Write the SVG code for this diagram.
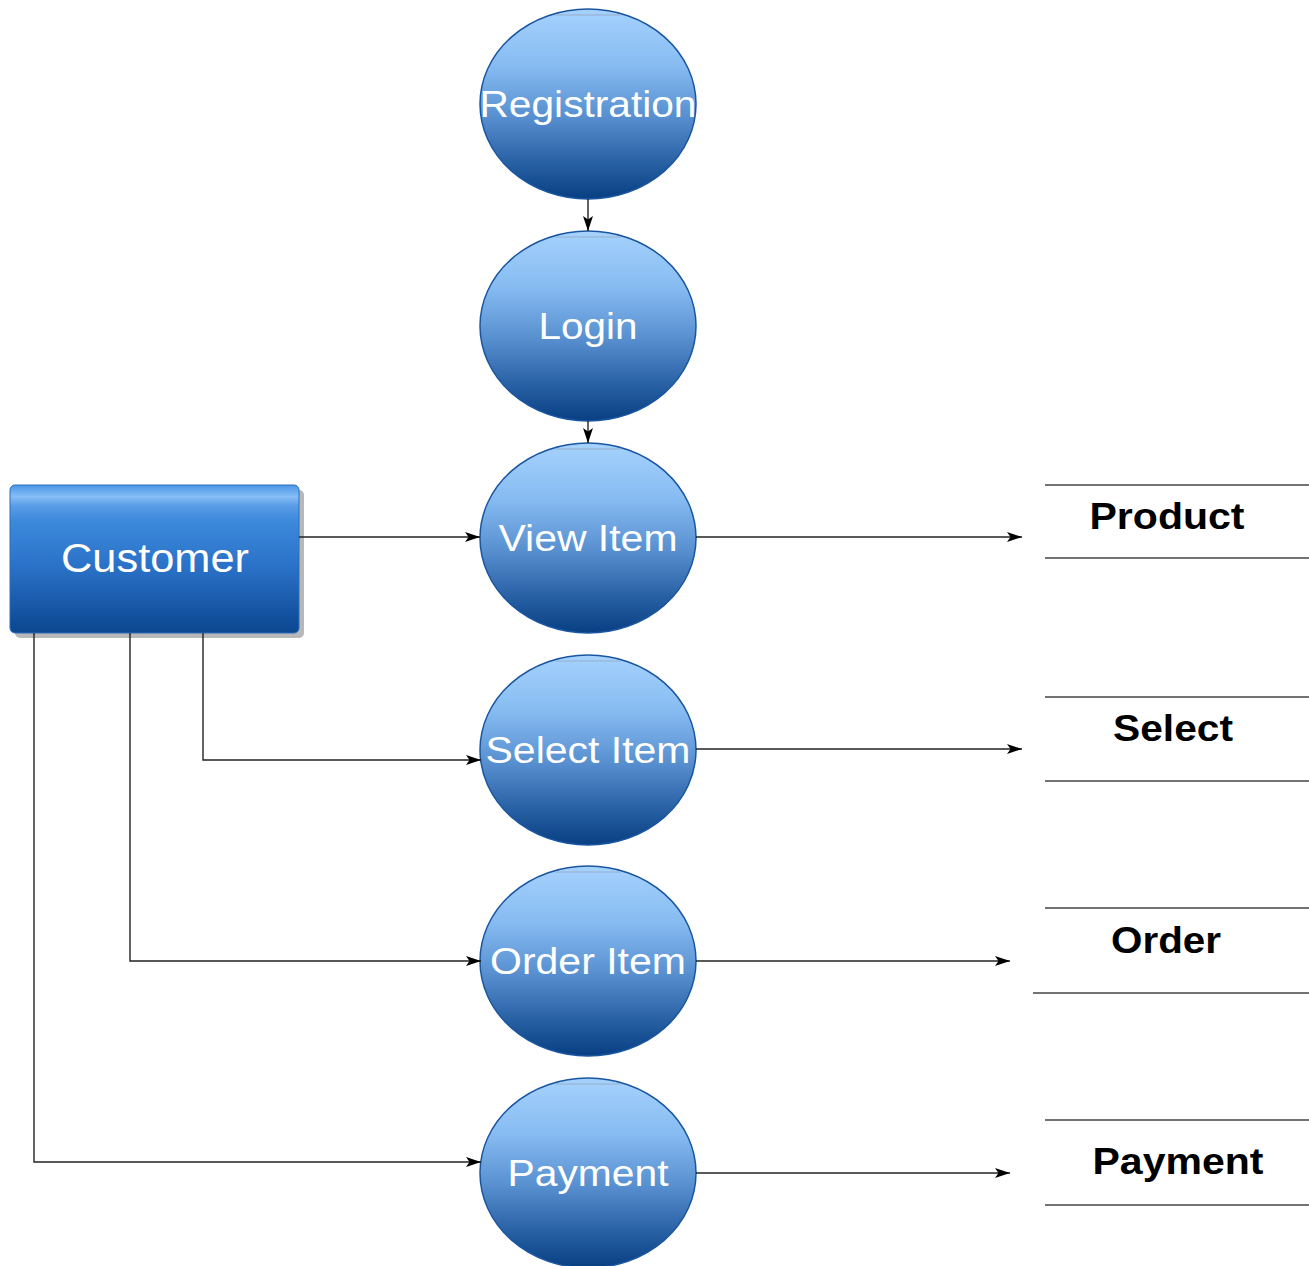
<svg xmlns="http://www.w3.org/2000/svg" width="1309" height="1266" viewBox="0 0 1309 1266">
<defs>
<linearGradient id="gc" x1="0" y1="0" x2="0" y2="1">
<stop offset="0" stop-color="#a6d2fd"/>
<stop offset="0.3" stop-color="#86bbf1"/>
<stop offset="0.55" stop-color="#5a92d2"/>
<stop offset="0.8" stop-color="#2a62a6"/>
<stop offset="1" stop-color="#073f82"/>
</linearGradient>
<linearGradient id="gr" x1="0" y1="0" x2="0" y2="1">
<stop offset="0" stop-color="#4a96e6"/>
<stop offset="0.08" stop-color="#86bef6"/>
<stop offset="0.14" stop-color="#5a9ce6"/>
<stop offset="0.24" stop-color="#3d89dc"/>
<stop offset="0.55" stop-color="#2a72c8"/>
<stop offset="1" stop-color="#0b4690"/>
</linearGradient>
<marker id="ah" markerUnits="userSpaceOnUse" markerWidth="16" markerHeight="12" refX="15" refY="6" orient="auto">
<path d="M0,1 L15,6 L0,11 L3.5,6 z" fill="#000"/>
</marker>
<style>
.proc ellipse{fill:url(#gc);stroke:#1a56a0;stroke-width:1.5}
.proc line{stroke:#9ab4d4;stroke-width:2;opacity:0.6}
.pt{font-family:"Liberation Sans",Arial,sans-serif;font-size:37px;fill:#fff;text-anchor:middle}
.st{font-family:"Liberation Sans",Arial,sans-serif;font-size:36px;font-weight:bold;fill:#000;text-anchor:middle}
.store line{stroke:#444;stroke-width:1.6}
.conn path,.conn line{fill:none;stroke:#222;stroke-width:1.4}
</style>
</defs>
<rect width="1309" height="1266" fill="#fff"/>

<g id="customer">
<rect x="15" y="490" width="289" height="148" rx="5" fill="#b8b8b8"/>
<rect x="10" y="485" width="289" height="148" rx="5" fill="url(#gr)" stroke="#2c6cbc" stroke-width="1"/>
<text x="155" y="572" font-family="Liberation Sans,Arial,sans-serif" font-size="40" fill="#fff" text-anchor="middle" textLength="188" lengthAdjust="spacingAndGlyphs">Customer</text>
</g>

<g id="registration" class="proc">
<ellipse cx="588" cy="104" rx="108" ry="95"/>
<line x1="555" y1="15" x2="621" y2="15"/>
<text class="pt" x="588" y="117" textLength="217" lengthAdjust="spacingAndGlyphs">Registration</text>
</g>
<g id="login" class="proc">
<ellipse cx="588" cy="326" rx="108" ry="95"/>
<line x1="555" y1="237" x2="621" y2="237"/>
<text class="pt" x="588" y="339" textLength="99" lengthAdjust="spacingAndGlyphs">Login</text>
</g>
<g id="view-item" class="proc">
<ellipse cx="588" cy="538" rx="108" ry="95"/>
<line x1="555" y1="449" x2="621" y2="449"/>
<text class="pt" x="588" y="551" textLength="179" lengthAdjust="spacingAndGlyphs">View Item</text>
</g>
<g id="select-item" class="proc">
<ellipse cx="588" cy="750" rx="108" ry="95"/>
<line x1="555" y1="661" x2="621" y2="661"/>
<text class="pt" x="588" y="763" textLength="205" lengthAdjust="spacingAndGlyphs">Select Item</text>
</g>
<g id="order-item" class="proc">
<ellipse cx="588" cy="961" rx="108" ry="95"/>
<line x1="555" y1="872" x2="621" y2="872"/>
<text class="pt" x="588" y="974" textLength="196" lengthAdjust="spacingAndGlyphs">Order Item</text>
</g>
<g id="payment" class="proc">
<ellipse cx="588" cy="1173" rx="108" ry="95"/>
<line x1="555" y1="1084" x2="621" y2="1084"/>
<text class="pt" x="588" y="1186" textLength="161" lengthAdjust="spacingAndGlyphs">Payment</text>
</g>

<g id="store-product" class="store">
<line x1="1045" y1="485" x2="1309" y2="485"/>
<line x1="1045" y1="558" x2="1309" y2="558"/>
<text class="st" x="1167" y="529" textLength="155" lengthAdjust="spacingAndGlyphs">Product</text>
</g>
<g id="store-select" class="store">
<line x1="1045" y1="697" x2="1309" y2="697"/>
<line x1="1045" y1="781" x2="1309" y2="781"/>
<text class="st" x="1173" y="741" textLength="120" lengthAdjust="spacingAndGlyphs">Select</text>
</g>
<g id="store-order" class="store">
<line x1="1045" y1="908" x2="1309" y2="908"/>
<line x1="1033" y1="993" x2="1309" y2="993"/>
<text class="st" x="1166" y="953" textLength="110" lengthAdjust="spacingAndGlyphs">Order</text>
</g>
<g id="store-payment" class="store">
<line x1="1045" y1="1120" x2="1309" y2="1120"/>
<line x1="1045" y1="1205" x2="1309" y2="1205"/>
<text class="st" x="1178" y="1174" textLength="171" lengthAdjust="spacingAndGlyphs">Payment</text>
</g>

<g id="connectors" class="conn">
<line x1="588" y1="199" x2="588" y2="231" marker-end="url(#ah)"/>
<line x1="588" y1="421" x2="588" y2="443" marker-end="url(#ah)"/>
<line x1="299" y1="537" x2="480" y2="537" marker-end="url(#ah)"/>
<path d="M203,633 V760 H481" marker-end="url(#ah)"/>
<path d="M130,633 V961 H481" marker-end="url(#ah)"/>
<path d="M34,633 V1162 H481" marker-end="url(#ah)"/>
<line x1="696" y1="537" x2="1022" y2="537" marker-end="url(#ah)"/>
<line x1="696" y1="749" x2="1022" y2="749" marker-end="url(#ah)"/>
<line x1="696" y1="961" x2="1010" y2="961" marker-end="url(#ah)"/>
<line x1="696" y1="1173" x2="1010" y2="1173" marker-end="url(#ah)"/>
</g>
</svg>
